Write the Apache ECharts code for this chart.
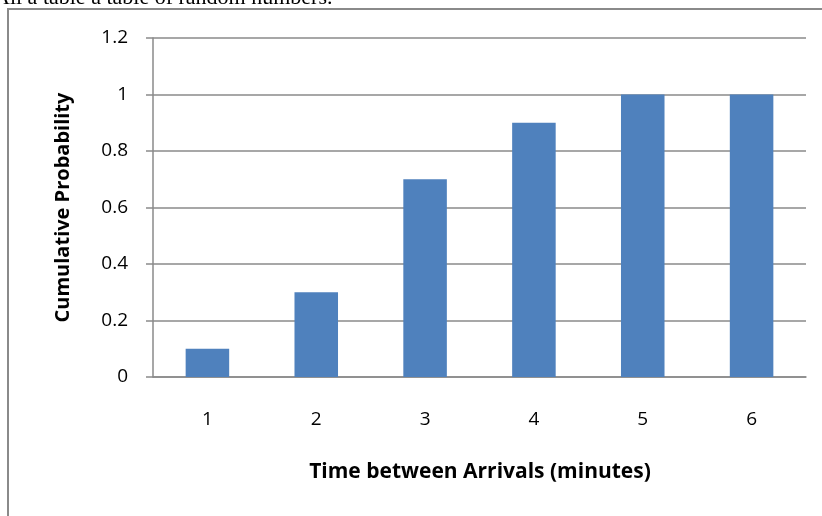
<!DOCTYPE html>
<html><head><meta charset="utf-8">
<script src="https://cdn.jsdelivr.net/npm/echarts@6/dist/echarts.min.js"></script>
<style>html,body{margin:0;padding:0;background:#fff}#c{width:822px;height:516px}</style>
</head><body><div id="c"></div>
<script>
const categories = ['1','2','3','4','5','6'];
const cumulativeProbability = [0.1, 0.3, 0.7, 0.9, 1, 1];
const yTicks = [0, 0.2, 0.4, 0.6, 0.8, 1, 1.2];
const xTitle = 'Time between Arrivals (minutes)';
const yTitle = 'Cumulative Probability';
const topText = 'All a table a table of random numbers.';

const chart = echarts.init(document.getElementById('c'), null, {renderer:'canvas'});
const font = 'Open Sans, Liberation Sans, sans-serif';
chart.setOption({
  animation:false,
  graphic:[
    {type:'text', x:-6, y:9, style:{text:topText, font:'22px "Liberation Serif", "DejaVu Serif", serif', fill:'#000', verticalAlign:'bottom', textVerticalAlign:'bottom'}},
    {type:'polyline', shape:{points:[[8,516],[8,9],[822,9]]}, style:{stroke:'#8a8a8a', lineWidth:2, fill:null}},
    {type:'text', x:480, y:472, style:{text:xTitle, font:'bold 21px '+font, fill:'#000', align:'center', verticalAlign:'middle', textAlign:'center', textVerticalAlign:'middle'}},
  ],
  grid:{left:153, right:16, top:38, bottom:139, containLabel:false},
  xAxis:{type:'category', data:categories,
    axisLine:{lineStyle:{color:'#8a8a8a', width:1.5}},
    axisTick:{show:false},
    axisLabel:{color:'#000', fontSize:19, fontFamily:font, margin:33}},
  yAxis:{type:'value', min:0, max:1.2, interval:0.2,
    name:yTitle, nameLocation:'middle', nameGap:80, nameRotate:90,
    nameTextStyle:{fontWeight:'bold', fontSize:20, fontFamily:font, color:'#000'},
    axisLine:{show:true, lineStyle:{color:'#8a8a8a', width:1.5}},
    axisTick:{show:true, length:7, lineStyle:{color:'#8a8a8a', width:1.5}},
    splitLine:{lineStyle:{color:'#8a8a8a', width:1.5}},
    axisLabel:{color:'#000', fontSize:19, fontFamily:font, margin:25,
      formatter:v=>String(Math.round(v*10)/10)}},
  series:[{type:'bar', data:cumulativeProbability, barWidth:'40%',
    itemStyle:{color:'#4F81BD'}}]
});
</script></body></html>
